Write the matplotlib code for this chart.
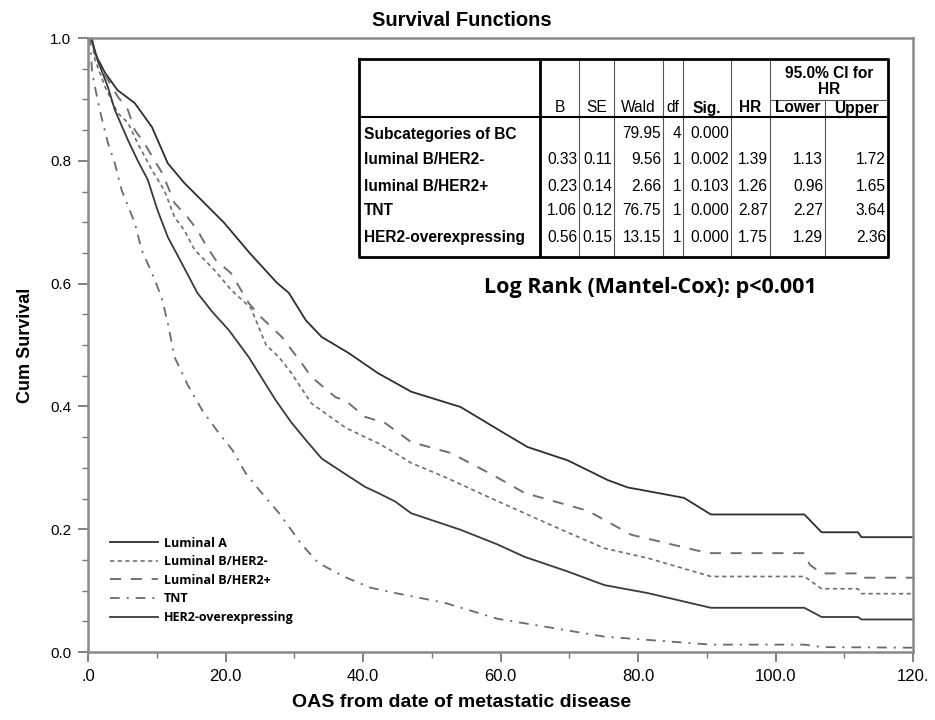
import matplotlib
matplotlib.use("Agg")
import matplotlib.pyplot as plt

plt.rcParams['lines.scale_dashes'] = False

# ---- Kaplan-Meier curves (months, cumulative survival)
lumA_t = [0, 0.5, 1, 2.5, 4.3, 6.8, 9.3, 11.6, 14, 16.5, 19.8, 23.5, 27.5, 29.2, 31.7, 34,
          37.9, 42.2, 47, 54.2, 59.1, 63.9, 69.8, 75.6, 78.5, 82.4, 86.7, 90.6, 104.2, 106.7,
          112, 112.5, 120]
lumA_s = [1.0, 1.0, 0.975, 0.943, 0.915, 0.894, 0.855, 0.796, 0.764, 0.736, 0.699, 0.65, 0.601,
          0.585, 0.54, 0.513, 0.487, 0.454, 0.424, 0.399, 0.366, 0.334, 0.312, 0.28, 0.268, 0.26,
          0.251, 0.224, 0.224, 0.195, 0.195, 0.187, 0.187]

lumBneg_t = [0, 0.5, 1, 2.5, 4.3, 5.8, 7.2, 9.3, 11.1, 12.6, 14, 15.5, 18.4, 20.8, 23.7, 25.9,
             27.8, 29.6, 32.5, 37.5, 42.2, 44.7, 47, 51.9, 59.1, 63.5, 69.3, 75.1, 81.4, 90.6,
             104.2, 106.7, 112, 112.5, 120]
lumBneg_s = [1.0, 1.0, 0.965, 0.92, 0.878, 0.862, 0.829, 0.785, 0.752, 0.708, 0.687, 0.655, 0.622,
             0.59, 0.56, 0.5, 0.48, 0.454, 0.405, 0.365, 0.34, 0.324, 0.308, 0.285, 0.248, 0.226,
             0.197, 0.169, 0.153, 0.123, 0.123, 0.103, 0.103, 0.095, 0.095]

lumBpos_t = [0, 0.5, 1.5, 3, 4.3, 5.8, 6.8, 8.2, 9.7, 10.8, 12.6, 14.5, 15.9, 17.3, 18.6, 20.8,
             23.4, 25.2, 28.2, 31.1, 32.5, 36, 37.4, 40.3, 43.2, 47, 52.8, 59.1, 63.5, 72.7, 79,
             90.2, 104.2, 105, 106.7, 112, 112.5, 120]
lumBpos_s = [1.0, 1.0, 0.96, 0.93, 0.905, 0.883, 0.85, 0.829, 0.8, 0.78, 0.731, 0.708, 0.687,
             0.66, 0.638, 0.617, 0.568, 0.545, 0.513, 0.47, 0.448, 0.415, 0.41, 0.383, 0.373,
             0.342, 0.324, 0.287, 0.259, 0.23, 0.191, 0.161, 0.161, 0.142, 0.128, 0.128, 0.121, 0.121]

tnt_t = [0, 0.3, 0.6, 1.7, 2.9, 3.9, 4.9, 6.8, 7.8, 9.3, 10.7, 11.6, 12.6, 14.5, 16.6, 18.8, 21,
         23, 24.9, 27.8, 31.1, 33.5, 37.4, 41, 44.7, 51.9, 59.6, 69.3, 75.1, 90.6, 104.2, 106.7, 120]
tnt_s = [1.0, 1.0, 0.943, 0.883, 0.829, 0.796, 0.752, 0.699, 0.655, 0.617, 0.578, 0.536, 0.48,
         0.435, 0.394, 0.36, 0.329, 0.29, 0.264, 0.226, 0.175, 0.145, 0.122, 0.105, 0.096, 0.08,
         0.054, 0.036, 0.025, 0.012, 0.012, 0.008, 0.007]

her2_t = [0, 0.5, 1.4, 2.9, 3.9, 5.8, 7.2, 8.7, 10.1, 11.6, 13.6, 15.9, 18, 20.5, 23.4, 27.3,
          29.5, 31.7, 34, 37.4, 40.3, 42.2, 44.7, 47, 54.2, 59.6, 63.5, 69.8, 75.1, 81.4, 90.6,
          104.2, 106.7, 112, 112.5, 120]
her2_s = [1.0, 1.0, 0.964, 0.92, 0.883, 0.834, 0.801, 0.769, 0.72, 0.676, 0.634, 0.585, 0.555,
          0.524, 0.48, 0.41, 0.375, 0.345, 0.315, 0.29, 0.269, 0.259, 0.245, 0.226, 0.199, 0.175,
          0.155, 0.131, 0.109, 0.096, 0.072, 0.072, 0.057, 0.057, 0.053, 0.053]

names = ['Luminal A', 'Luminal B/HER2-', 'Luminal B/HER2+', 'TNT', 'HER2-overexpressing']

# ---- Cox regression table
col_heads = ['B', 'SE', 'Wald', 'df', 'Sig.', 'HR', 'Lower', 'Upper']
row_labels = ['Subcategories of BC', 'luminal B/HER2-', 'luminal B/HER2+', 'TNT', 'HER2-overexpressing']
B = ['', '0.33', '0.23', '1.06', '0.56']
SE = ['', '0.11', '0.14', '0.12', '0.15']
wald = ['79.95', '9.56', '2.66', '76.75', '13.15']
dfree = ['4', '1', '1', '1', '1']
sig = ['0.000', '0.002', '0.103', '0.000', '0.000']
hr = ['', '1.39', '1.26', '2.87', '1.75']
lower = ['', '1.13', '0.96', '2.27', '1.29']
upper = ['', '1.72', '1.65', '3.64', '2.36']

xticks = [0, 20, 40, 60, 80, 100, 120]
xticklabels = ['.0', '20.0', '40.0', '60.0', '80.0', '100.0', '120.']
yticks = [0.0, 0.2, 0.4, 0.6, 0.8, 1.0]

W, H = 935, 720
fig = plt.figure(figsize=(W / 100, H / 100), dpi=100)
ax = fig.add_axes([88 / W, 1 - 652 / H, (913 - 88) / W, (652 - 38) / H])

styles = [
    dict(color='#2e2e2e', lw=1.3, ls='-'),
    dict(color='#6e6e6e', lw=1.2, ls=(0, (3, 2.5))),
    dict(color='#707070', lw=1.4, ls=(0, (8, 7))),
    dict(color='#6a6a6a', lw=1.3, ls=(0, (7, 5, 1.5, 5))),
    dict(color='#3a3a3a', lw=1.3, ls='-'),
]
series = [(lumA_t, lumA_s), (lumBneg_t, lumBneg_s), (lumBpos_t, lumBpos_s),
          (tnt_t, tnt_s), (her2_t, her2_s)]
for (t, s), name, st in zip(series, names, styles):
    ax.plot(t, s, label=name, **st)

ax.set_xlim(0, 120)
ax.set_ylim(0, 1.0)
ax.set_xticks(xticks)
ax.set_xticklabels(xticklabels, family=['Liberation Sans Narrow', 'Liberation Sans'], fontsize=12)
ax.set_xticks(range(10, 120, 20), minor=True)
ax.set_yticks(yticks)
ax.set_yticklabels(['%.1f' % v for v in yticks], family='Liberation Sans', fontsize=11)
ax.set_yticks([i * 0.05 for i in range(21)], minor=True)
ax.tick_params(which='major', direction='out', length=7, width=1.3, color='#777777', pad=5)
ax.tick_params(which='minor', direction='out', length=4, width=1.0, color='#777777')
for sp in ax.spines.values():
    sp.set_color('#8a8a8a')
    sp.set_linewidth(1.8)

ax.set_ylabel('Cum Survival', family='Liberation Sans', fontweight='bold', fontsize=13)
ax.yaxis.set_label_coords(-0.065, 0.5)
ax.set_xlabel('OAS from date of metastatic disease', family=['Liberation Sans Narrow', 'Liberation Sans'],
              fontweight='bold', fontsize=14)
ax.xaxis.set_label_coords(0.453, -0.068)

fig.text(462 / W, 1 - 21 / H, 'Survival Functions', family='Liberation Sans', fontweight='bold',
         fontsize=14.5, ha='center', va='center')

ax.legend(loc='upper left', bbox_to_anchor=(0.027, 0.188), frameon=False,
          prop=dict(family='Open Sans', weight='bold', size=9),
          handlelength=3.8, handletextpad=0.5, labelspacing=0.45, borderpad=0, borderaxespad=0)

ax.text(0.682, 0.594, 'Log Rank (Mantel-Cox): p<0.001', transform=ax.transAxes, family='Open Sans',
        fontweight='bold', fontsize=15.5, ha='center', va='center')

# ---- table drawn in pixel units
tx0, tx1, ty0, ty1 = 359, 888, 59, 257
tax = fig.add_axes([tx0 / W, 1 - ty1 / H, (tx1 - tx0) / W, (ty1 - ty0) / H])
tax.set_xlim(tx0, tx1)
tax.set_ylim(ty1, ty0)
tax.axis('off')
tax.add_patch(plt.Rectangle((tx0, ty0), tx1 - tx0, ty1 - ty0, facecolor='white', edgecolor='none'))

cols = [359, 540, 579, 614, 663, 683, 731, 770, 825, 888]
head_y, sub_y = 117, 100
for x in cols[2:8]:
    tax.plot([x, x], [ty0, ty1], color='#555555', lw=0.8)
tax.plot([825, 825], [sub_y, ty1], color='#555555', lw=0.8)
tax.plot([770, 888], [sub_y, sub_y], color='#555555', lw=0.8)
tax.plot([540, 540], [ty0, ty1], color='black', lw=2)
tax.plot([tx0, tx1], [head_y, head_y], color='black', lw=1.5)
tax.plot([tx0, tx1, tx1, tx0, tx0], [ty0, ty0, ty1, ty1, ty0], color='black', lw=2, clip_on=False)

tfont = dict(family='Liberation Sans', fontsize=11.2)
bold_heads = {'Sig.', 'HR', 'Lower', 'Upper'}
for i, h in enumerate(col_heads):
    xc = (cols[i + 1] + cols[i + 2]) / 2
    tax.text(xc, 108, h, ha='center', va='center',
             fontweight='bold' if h in bold_heads else 'normal', **tfont)
tax.text(829, 73, '95.0% CI for', ha='center', va='center', fontweight='bold', **tfont)
tax.text(829, 89, 'HR', ha='center', va='center', fontweight='bold', **tfont)

row_y = [134, 160, 186, 210, 237]
columns = [B, SE, wald, dfree, sig, hr, lower, upper]
for r, y in enumerate(row_y):
    tax.text(364, y, row_labels[r], ha='left', va='center', fontweight='bold', **tfont)
    for c, vals in enumerate(columns):
        if vals[r]:
            tax.text(cols[c + 2] - 2, y, vals[r], ha='right', va='center', **tfont)

fig.savefig('out.png', dpi=100)
